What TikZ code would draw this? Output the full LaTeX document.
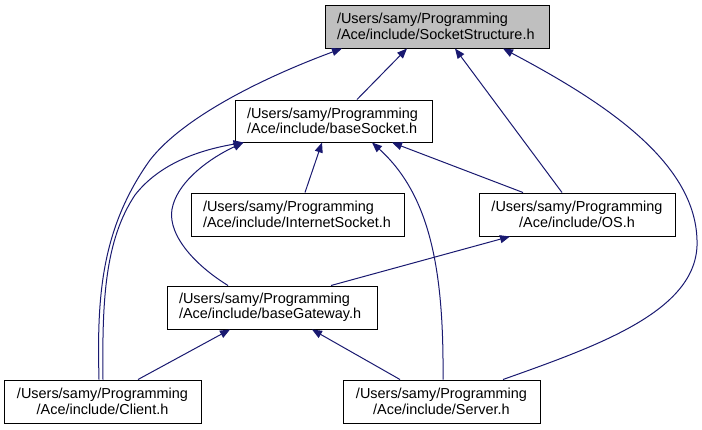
\documentclass[tikz,border=0pt]{standalone}
\usepackage{fontspec}
\setmainfont{Liberation Sans}
\usetikzlibrary{arrows.meta}
\definecolor{navy}{HTML}{191970}
\definecolor{boxgray}{HTML}{BFBFBF}
\tikzset{
  box/.style={draw=black, line width=1pt, inner xsep=12pt, inner ysep=0pt,
    minimum height=43pt, font=\fontsize{14.45}{15.5}\selectfont},
  dep/.style={draw=navy, line width=1pt, -{Triangle[length=10pt,width=8pt]}},
}
\begin{document}
\begin{tikzpicture}[x=1pt,y=-1pt]
\useasboundingbox (0,0) rectangle (702,429);
\node[box, fill=boxgray, text width=200pt, align=left] (SS) at (437,26.5) {/Users/samy/Programming\\/Ace/include/SocketStructure.h};
\node[box, text width=173pt, align=left, minimum height=42pt] (BS) at (333.5,121) {/Users/samy/Programming\\/Ace/include/baseSocket.h};
\node[box, text width=189pt, align=left] (IS) at (297.5,214.5) {/Users/samy/Programming\\/Ace/include/InternetSocket.h};
\node[box, text width=172pt, align=center] (OS) at (577,214.5) {/Users/samy/Programming\\/Ace/include/OS.h};
\node[box, text width=186pt, align=left] (BG) at (272,307.5) {/Users/samy/Programming\\/Ace/include/baseGateway.h};
\node[box, text width=173pt, align=center] (CL) at (102.5,401.5) {/Users/samy/Programming\\/Ace/include/Client.h};
\node[box, text width=173pt, align=center] (SV) at (441.5,401.5) {/Users/samy/Programming\\/Ace/include/Server.h};

% edges to SocketStructure
\draw[dep] ([xshift=23.5pt]BS.north) -- ([xshift=-30pt]SS.south);
\draw[dep] ([xshift=-3.5pt]CL.north) .. controls (97,300) and (100,230) .. (150,160)
  .. controls (185,115) and (270,75) .. ([xshift=-95pt]SS.south);
\draw[dep] ([xshift=-15pt]OS.north) -- ([xshift=18pt]SS.south);
\draw[dep] ([xshift=61.5pt]SV.north) .. controls (600,345) and (700,310) .. (697,240)
  .. controls (695,160) and (600,100) .. ([xshift=66pt]SS.south);

% edges to baseSocket
\draw[dep] ([xshift=7.5pt]IS.north) -- ([xshift=-11.5pt]BS.south);
\draw[dep] ([xshift=-54pt]OS.north) -- ([xshift=58.5pt]BS.south);
\draw[dep] ([xshift=0.5pt]CL.north) .. controls (102,300) and (105,240) .. (135,195)
  .. controls (160,163) and (200,150) .. ([xshift=-90pt]BS.south);
\draw[dep] ([xshift=-44pt]BG.north) .. controls (190,262) and (165,230) .. (173,205)
  .. controls (180,180) and (210,158) .. ([xshift=-90pt]BS.south);
\draw[dep] ([xshift=1.5pt]SV.north) .. controls (444,270) and (430,195) .. ([xshift=38.5pt]BS.south);

% edges to OS and baseGateway
\draw[dep] ([xshift=59pt]BG.north) -- ([xshift=-67pt]OS.south);
\draw[dep] ([xshift=35.5pt]CL.north) -- ([xshift=-42pt]BG.south);
\draw[dep] ([xshift=-41.5pt]SV.north) -- ([xshift=40pt]BG.south);
\end{tikzpicture}
\end{document}
